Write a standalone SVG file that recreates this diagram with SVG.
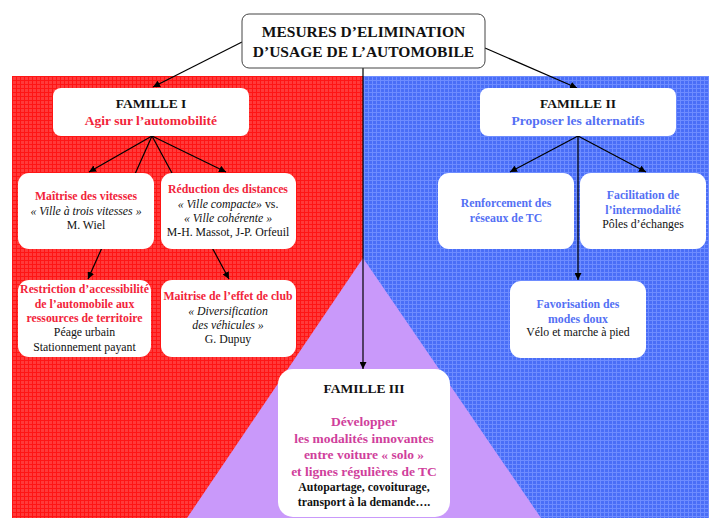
<svg xmlns="http://www.w3.org/2000/svg" width="709" height="518" viewBox="0 0 709 518">
<defs>
<pattern id="pr" width="4" height="4" patternUnits="userSpaceOnUse">
<rect width="4" height="4" fill="#FF3A3A"/>
<rect x="0" y="0" width="1" height="4" fill="#FF1515"/>
<rect x="0" y="0" width="4" height="1" fill="#FF1515"/>
</pattern>
<pattern id="pb" width="4" height="4" patternUnits="userSpaceOnUse">
<rect width="4" height="4" fill="#4A6EF7"/>
<rect x="0" y="0" width="1" height="4" fill="#6E8CFF"/>
<rect x="0" y="0" width="4" height="1" fill="#6E8CFF"/>
</pattern>
<marker id="ah" viewBox="0 0 10 10" refX="10" refY="5" markerWidth="7" markerHeight="7" markerUnits="userSpaceOnUse" orient="auto">
<path d="M0,0 L10,5 L0,10 z" fill="#000"/>
</marker>
</defs>
<style>
text{font-family:"Liberation Serif","Times New Roman",serif;text-anchor:middle;}
.b{font-weight:bold;}
.i{font-style:italic;}
.k{fill:#111;}
.r{fill:#F2243A;font-weight:bold;}
.bl{fill:#5470F4;font-weight:bold;}
.p{fill:#D03F9C;font-weight:bold;}
.box{fill:#fff;}
.ln{stroke:#000;stroke-width:1.2;fill:none;}
.s11{font-size:11.8px;}
.s13{font-size:13.5px;}
</style>
<rect x="0" y="0" width="709" height="518" fill="#fff"/>
<rect x="12" y="76" width="351" height="442" fill="url(#pr)"/>
<rect x="363" y="76" width="346" height="442" fill="url(#pb)"/>
<polygon points="363,258 187,518 541,518" fill="#C999FA"/>

<g id="connectors">
<line class="ln" x1="242" y1="42" x2="153" y2="87" marker-end="url(#ah)"/>
<line class="ln" x1="485" y1="48" x2="577" y2="88" marker-end="url(#ah)"/>
<line class="ln" x1="363" y1="68" x2="363" y2="369" marker-end="url(#ah)"/>
<line class="ln" x1="152" y1="136" x2="89" y2="172" marker-end="url(#ah)"/>
<line class="ln" x1="152" y1="136" x2="226" y2="172" marker-end="url(#ah)"/>
<line class="ln" x1="152" y1="136" x2="88" y2="279" marker-end="url(#ah)"/>
<line class="ln" x1="152" y1="136" x2="229" y2="279" marker-end="url(#ah)"/>
<line class="ln" x1="578" y1="136" x2="510" y2="172" marker-end="url(#ah)"/>
<line class="ln" x1="578" y1="136" x2="646" y2="172" marker-end="url(#ah)"/>
<line class="ln" x1="578" y1="136" x2="578" y2="280" marker-end="url(#ah)"/>
</g>

<g id="root">
<rect x="242" y="14" width="243" height="54" rx="7" fill="#fff" stroke="#444" stroke-width="1"/>
<text class="b k" x="363.5" y="37" font-size="15.5">MESURES D’ELIMINATION</text>
<text class="b k" x="363.5" y="57" font-size="15.5">D’USAGE DE L’AUTOMOBILE</text>
</g>

<g id="famille1">
<rect class="box" x="53" y="88" width="196" height="48" rx="8"/>
<text class="b k s13" x="151" y="108">FAMILLE I</text>
<text class="r s13" x="151" y="125">Agir sur l’automobilité</text>
</g>

<g id="famille2">
<rect class="box" x="480" y="88" width="196" height="48" rx="8"/>
<text class="b k s13" x="578" y="108">FAMILLE II</text>
<text class="bl s13" x="578" y="125">Proposer les alternatifs</text>
</g>

<g id="vitesses">
<rect class="box" x="18" y="173" width="136" height="76" rx="11"/>
<text class="r s11" x="86" y="200">Maîtrise des vitesses</text>
<text class="i k s11" x="86" y="215">« Ville à trois vitesses »</text>
<text class="k s11" x="86" y="229">M. Wiel</text>
</g>

<g id="distances">
<rect class="box" x="161" y="173" width="135" height="76" rx="11"/>
<text class="r s11" x="228" y="193">Réduction des distances</text>
<text class="k s11" x="228" y="208"><tspan class="i">« Ville compacte»</tspan> vs.</text>
<text class="i k s11" x="228" y="222">« Ville cohérente »</text>
<text class="k s11" x="228" y="236">M-H. Massot, J-P. Orfeuil</text>
</g>

<g id="restriction">
<rect class="box" x="18" y="280" width="133" height="77" rx="11"/>
<text class="r s11" x="84.5" y="293">Restriction d’accessibilité</text>
<text class="r s11" x="84.5" y="308">de l’automobile aux</text>
<text class="r s11" x="84.5" y="322">ressources de territoire</text>
<text class="k s11" x="84.5" y="336">Péage urbain</text>
<text class="k s11" x="84.5" y="351">Stationnement payant</text>
</g>

<g id="club">
<rect class="box" x="161" y="280" width="135" height="77" rx="11"/>
<text class="r s11" x="228" y="300">Maitrise de l’effet de club</text>
<text class="i k s11" x="228" y="315">« Diversification</text>
<text class="i k s11" x="228" y="329">des véhicules »</text>
<text class="k s11" x="228" y="343">G. Dupuy</text>
</g>

<g id="reseaux">
<rect class="box" x="438" y="173" width="136" height="76" rx="11"/>
<text class="bl s11" x="506" y="207">Renforcement des</text>
<text class="bl s11" x="506" y="222">réseaux de TC</text>
</g>

<g id="intermodalite">
<rect class="box" x="580" y="173" width="126" height="76" rx="11"/>
<text class="bl s11" x="643" y="199">Facilitation de</text>
<text class="bl s11" x="643" y="214">l’intermodalité</text>
<text class="k s11" x="643" y="228">Pôles d’échanges</text>
</g>

<g id="doux">
<rect class="box" x="510" y="281" width="136" height="77" rx="11"/>
<text class="bl s11" x="578" y="308">Favorisation des</text>
<text class="bl s11" x="578" y="323">modes doux</text>
<text class="k s11" x="578" y="336">Vélo et marche à pied</text>
</g>

<g id="famille3">
<rect class="box" x="278" y="369" width="172" height="148" rx="15"/>
<text class="b k s13" x="364" y="393">FAMILLE III</text>
<text class="p s13" x="364" y="426">Développer</text>
<text class="p s13" x="364" y="443">les modalités innovantes</text>
<text class="p s13" x="364" y="459">entre voiture « solo »</text>
<text class="p s13" x="364" y="476">et lignes régulières de TC</text>
<text class="b k s11" x="364" y="491">Autopartage, covoiturage,</text>
<text class="b k s11" x="364" y="506">transport à la demande….</text>
</g>
</svg>
